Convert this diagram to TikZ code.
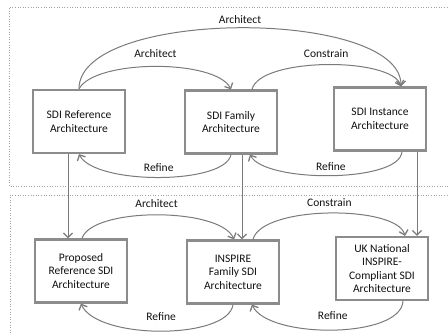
\documentclass[tikz,border=0pt]{standalone}
\usepackage{fontspec}
\setmainfont{Carlito}
\usetikzlibrary{arrows.meta}
\definecolor{boxgray}{HTML}{8C8C8C}
\definecolor{linegray}{HTML}{7A7A7A}
\definecolor{txt}{HTML}{111111}
\tikzset{
  archbox/.style={draw=boxgray, line width=2.2pt, fill=white, minimum width=92pt,
    minimum height=63pt, align=center, inner sep=2pt, text=txt,
    font=\fontsize{11.5}{13.5}\selectfont},
  rel/.style={draw=linegray, line width=1pt,
    -{Straight Barb[length=4.5pt,width=9pt,line width=1.3pt]}},
  lbl/.style={text=txt, font=\fontsize{11.5}{13.5}\selectfont, inner sep=1.5pt, above=#1},
  lbl/.default=4pt,
  layer/.style={draw=boxgray!80, dotted, line width=0.6pt}
}
\begin{document}
\begin{tikzpicture}[x=1pt, y=-1pt]
\useasboundingbox (0,0) rectangle (448,333);
% layer frames
\draw[layer] (455,7) -- (9,7) -- (9,186) -- (455,186);
\draw[layer] (455,195) -- (10,195) -- (10,340);

% top layer: generic architectures
\node[archbox] (b1) at (79,121.5) {SDI Reference\\Architecture};
\node[archbox] (b2) at (231,122) {SDI Family\\Architecture};
\node[archbox] (b3) at (380,119) {SDI Instance\\Architecture};

% bottom layer: concrete architectures
\node[archbox] (b4) at (81,271) {Proposed\\Reference SDI\\Architecture};
\node[archbox] (b5) at (233,272) {INSPIRE\\Family SDI\\Architecture};
\node[archbox] (b6) at (382,268.5) {UK National\\INSPIRE-\\Compliant SDI\\Architecture};

% anchor points on the box edges
\coordinate (b2out) at ([xshift=21pt]b2.north);
\coordinate (b3in) at ([xshift=21pt]b3.north);
\coordinate (b2bin) at ([xshift=19pt]b2.south);
\coordinate (b3bout) at ([xshift=22pt]b3.south);
\coordinate (b5out) at ([xshift=20pt]b5.north);
\coordinate (b6in) at ([xshift=23pt]b6.north);
\coordinate (b5bin) at ([xshift=19pt]b5.south);
\coordinate (b6bout) at ([xshift=21pt]b6.south);

% top layer relations
\draw[rel] (b1.north) .. controls (79,8) and (401,8) .. node[lbl=2pt] (l1) {Architect} (b3in);
\draw[rel] (b1.north) .. controls (95,59) and (216,59) .. node[lbl=7pt] (l2) {Architect} (b2.north);
\draw[rel] (b2out) .. controls (260,57) and (392,57) .. node[lbl=5.5pt] (l3) {Constrain} (b3in);
\draw[rel] (b2.south) .. controls (225,185) and (95,185) .. node[lbl=4pt] (l4) {Refine} (b1.south);
\draw[rel] (b3bout) .. controls (400,183) and (265,183) .. node[lbl=3pt] (l5) {Refine} (b2bin);

% links between the layers
\coordinate (v1) at ([xshift=-11pt]b1.south);
\coordinate (v2) at ([xshift=11pt]b2.south);
\coordinate (v3) at ([xshift=37pt]b3.south);
\draw[rel] (v1) -- (v1 |- b4.north);
\draw[rel] (v2) -- (v2 |- b5.north);
\draw[rel] (v3) -- (v3 |- b6.north);

% bottom layer relations
\draw[rel] ([xshift=1pt]b4.north) .. controls (92,207) and (220,207) .. node[lbl=5pt] (l6) {Architect} ([xshift=1pt]b5.north);
\draw[rel] (b5out) .. controls (262,205) and (397,205) .. node[lbl=4.5pt] (l7) {Constrain} (b6in);
\draw[rel] (b5.south) .. controls (228,340) and (97,340) .. node[lbl=8pt] (l8) {Refine} (b4.south);
\draw[rel] (b6bout) .. controls (401,339) and (268,339) .. node[lbl=8pt] (l9) {Refine} (b5bin);
\end{tikzpicture}
\end{document}
